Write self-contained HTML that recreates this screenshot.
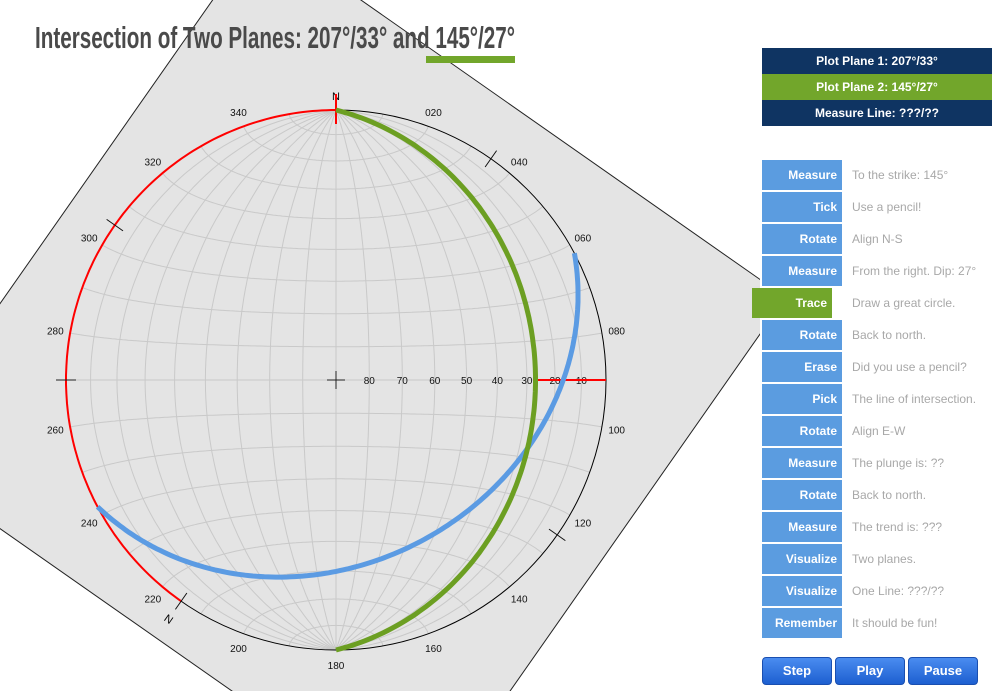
<!DOCTYPE html>
<html><head><meta charset="utf-8"><style>
html,body{margin:0;width:1000px;height:691px;overflow:hidden}
body{background:#fff;font-family:"Liberation Sans",sans-serif;position:relative}
svg{overflow:hidden}
.top{position:absolute;left:762px;width:230px;height:26px;color:#fff;font-weight:bold;font-size:12px;text-align:center;line-height:26px}
.row{position:absolute;left:762px;height:30px;width:230px}
.btn{position:absolute;left:0;top:0;width:80px;height:30px;background:#5b9ce0;color:#fff;font-weight:bold;font-size:12px;text-align:right;line-height:30px;box-sizing:border-box;padding-right:5px}
.desc{position:absolute;left:90px;top:0;line-height:30px;font-size:12px;color:#a8a8a8;white-space:nowrap}
.ctl{position:absolute;top:657px;width:70px;height:28px;border-radius:4px;background:linear-gradient(#4a8cf0,#1d5fd0);border:1px solid #1a4fb0;box-sizing:border-box;color:#fff;font-weight:bold;font-size:13px;text-align:center;line-height:26px}
</style></head><body>
<svg id="net" width="760" height="691" style="position:absolute;left:0;top:0"></svg>
<svg width="560" height="70" style="position:absolute;left:0;top:0">
<text x="35" y="48" textLength="480" lengthAdjust="spacingAndGlyphs" font-family="Liberation Sans Narrow, Liberation Sans, sans-serif" font-weight="bold" font-size="31" fill="#4a4a4a">Intersection of Two Planes: 207°/33° and 145°/27°</text>
<rect x="426" y="56" width="89" height="7" fill="#72a62b"/>
</svg>
<div class="top" style="top:48px;background:#0f3462">Plot Plane 1: 207°/33°</div>
<div class="top" style="top:74px;background:#72a62b">Plot Plane 2: 145°/27°</div>
<div class="top" style="top:100px;background:#0f3462">Measure Line: ???/??</div>
<div id="steps"></div>
<div class="ctl" style="left:762px">Step</div>
<div class="ctl" style="left:835px">Play</div>
<div class="ctl" style="left:908px">Pause</div>
<script>
const stepNames=["Measure","Tick","Rotate","Measure","Trace","Rotate","Erase","Pick","Rotate","Measure","Rotate","Measure","Visualize","Visualize","Remember"];
const stepDescs=["To the strike: 145°","Use a pencil!","Align N-S","From the right. Dip: 27°","Draw a great circle.","Back to north.","Did you use a pencil?","The line of intersection.","Align E-W","The plunge is: ??","Back to north.","The trend is: ???","Two planes.","One Line: ???/??","It should be fun!"];
const activeStep=4;
const st=document.getElementById('steps');
stepNames.forEach((n,i)=>{
  const r=document.createElement('div');r.className='row';r.style.top=(160+32*i)+'px';
  
  
  const b=document.createElement('div');b.className='btn';b.textContent=n;
  if(i===activeStep){b.style.background='#72a62b';b.style.left='-10px';}
  
  
  const d=document.createElement('div');d.className='desc';d.textContent=stepDescs[i];
  
  
  r.appendChild(b);r.appendChild(d);st.appendChild(r);
});

// chart data
const netRotation=145;
const planeStrikes=[207,145];
const planeDips=[33,27];
const planeColors=["#5b9be3","#6c9f22"];
const axisLabels=[80,70,60,50,40,30,20,10];
const degLabels=["020","040","060","080","100","120","140","160","180","200","220","240","260","280","300","320","340"];

const NS='http://www.w3.org/2000/svg';
const svg=document.getElementById('net');
const cx=336,cy=380,R=270,d2r=Math.PI/180;
function el(t,a,p){const e=document.createElementNS(NS,t);for(const k in a)e.setAttribute(k,a[k]);(p||svg).appendChild(e);return e;}
function projV(n,e,z){const s=Math.sqrt(1+z);return [cx+R*e/s,cy-R*n/s];}
function proj(az,pl){const c=Math.cos(pl*d2r);return projV(c*Math.cos(az*d2r),c*Math.sin(az*d2r),Math.sin(pl*d2r));}
function pathOf(pts){return 'M'+pts.map(p=>p[0].toFixed(1)+','+p[1].toFixed(1)).join('L');}
function greatCircle(strike,dip){
  const s=strike*d2r,dd=(strike+90)*d2r,pts=[];
  const a=[Math.cos(s),Math.sin(s),0],b=[Math.cos(dip*d2r)*Math.cos(dd),Math.cos(dip*d2r)*Math.sin(dd),Math.sin(dip*d2r)];
  for(let i=0;i<=180;i++){const t=i*d2r;pts.push(projV(a[0]*Math.cos(t)+b[0]*Math.sin(t),a[1]*Math.cos(t)+b[1]*Math.sin(t),a[2]*Math.cos(t)+b[2]*Math.sin(t)));}
  return pts;
}
const bg=el('rect',{x:340-320,y:376-320,width:640,height:640,fill:'#e4e4e4',stroke:'#222','stroke-width':1,transform:'rotate(35 340 376)'});


const grid=el('g',{stroke:'#c9c9c9','stroke-width':1,fill:'none'});


for(let d=10;d<=80;d+=10){
  el('path',{d:pathOf(greatCircle(0,d))},grid);
  el('path',{d:pathOf(greatCircle(180,d))},grid);
}
el('line',{x1:cx,y1:cy-R,x2:cx,y2:cy+R},grid);
el('line',{x1:cx-R,y1:cy,x2:cx+R,y2:cy},grid);
for(let a=10;a<=170;a+=10){if(a===90)continue;
  const pts=[];for(let i=0;i<=180;i++){const s=i*d2r,sa=Math.sin(a*d2r);pts.push(projV(Math.cos(a*d2r),sa*Math.cos(s),sa*Math.sin(s)));}
  el('path',{d:pathOf(pts)},grid);
}
const prim=el('circle',{cx,cy,r:R,fill:'none',stroke:'#000','stroke-width':1});


const ra=[];for(let az=360-netRotation;az<=360;az++)ra.push(proj(az,0));
const red=el('path',{d:pathOf(ra),fill:'none',stroke:'#f00','stroke-width':2});


degLabels.forEach(l=>{const az=+l;const x=cx+285*Math.sin(az*d2r),y=cy-285*Math.cos(az*d2r);
  const t=el('text',{x,y:y+4,'font-size':10,'text-anchor':'middle',fill:'#111'});t.textContent=l;
  
  });
axisLabels.forEach(v=>{const p=proj(90,v);const t=el('text',{x:p[0],y:cy+4,'font-size':10,'text-anchor':'middle',fill:'#111'});t.textContent=v;
  
  });
el('path',{d:`M${cx-9},${cy}H${cx+9}M${cx},${cy-9}V${cy+9}M${cx-R-10},${cy}H${cx-R+10}`,stroke:'#222','stroke-width':1});
[0,90,180,270].forEach(k=>{const az=(k-netRotation+360)%360;const s=Math.sin(az*d2r),c=Math.cos(az*d2r);
  const tk=el('line',{x1:cx+(R-10)*s,y1:cy-(R-10)*c,x2:cx+(R+10)*s,y2:cy-(R+10)*c,stroke:'#111','stroke-width':1});
  
  });
{const az=360-netRotation,s=Math.sin(az*d2r),c=Math.cos(az*d2r);
 const t=el('text',{x:cx+(R+22)*s,y:cy-(R+22)*c+4,'font-size':11,'text-anchor':'middle',transform:`rotate(${az} ${cx+(R+22)*s} ${cy-(R+22)*c})`});t.textContent='N';
 
 }
const nl=el('text',{x:cx,y:cy-R-10,'font-size':11,'text-anchor':'middle'});nl.textContent='N';


el('line',{x1:cx,y1:cy-R-16,x2:cx,y2:cy-R+14,stroke:'#f00','stroke-width':2});
const dp=proj(90,planeDips[1]);
const dl=el('line',{x1:dp[0],y1:cy,x2:cx+R,y2:cy,stroke:'#f00','stroke-width':2});


planeStrikes.forEach((s,i)=>{
  const pts=i===1?greatCircle(0,planeDips[i]):greatCircle(s-netRotation,planeDips[i]);
  const p=el('path',{d:pathOf(pts),fill:'none',stroke:planeColors[i],'stroke-width':5});
  
  
});
</script>
</body></html>
